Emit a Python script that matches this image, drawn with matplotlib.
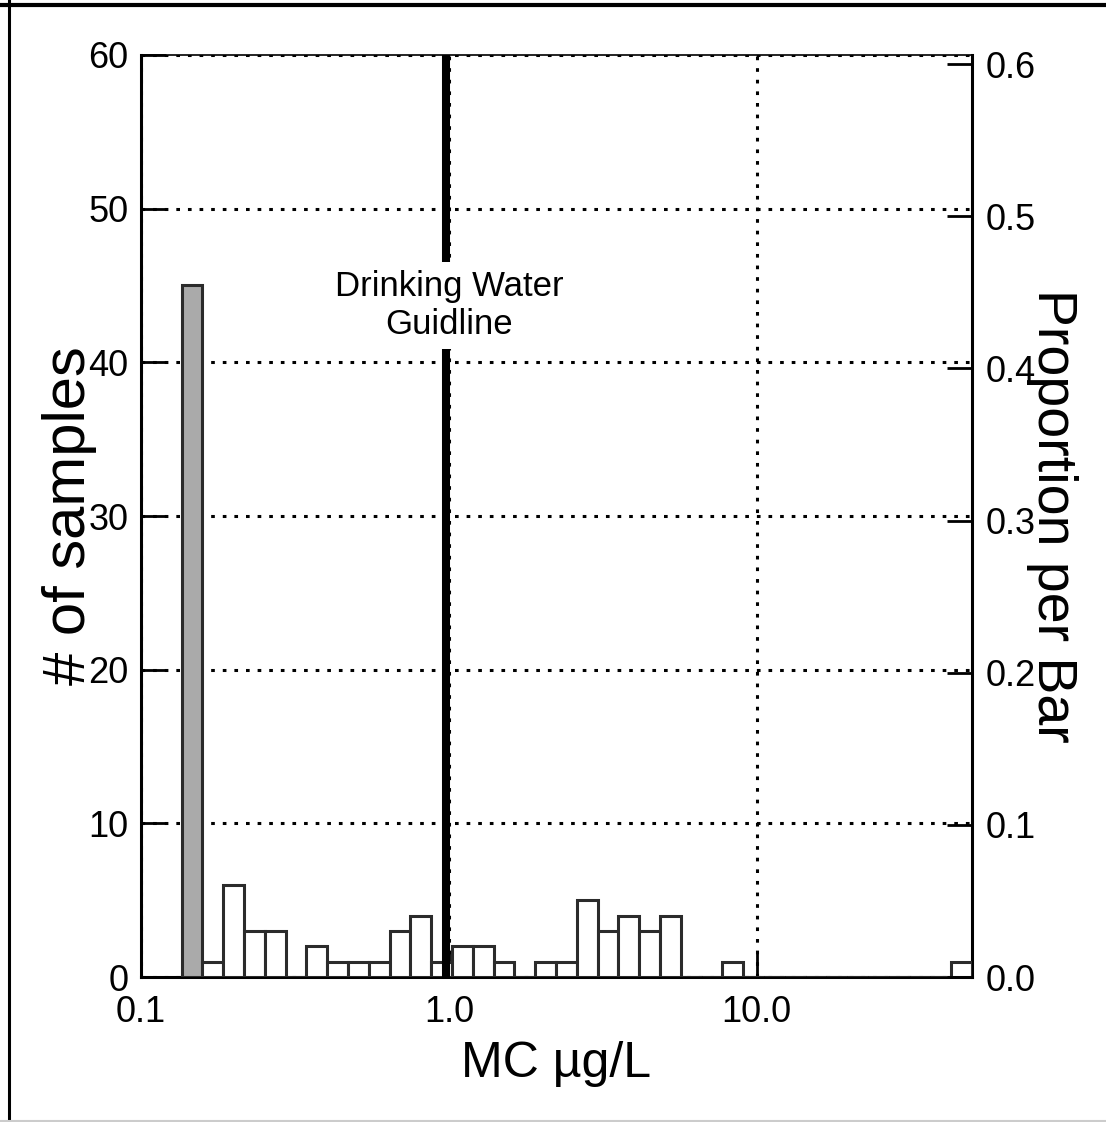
import numpy as np
import matplotlib
matplotlib.use('Agg')
import matplotlib.pyplot as plt
from matplotlib.lines import Line2D

plt.rcParams['font.family'] = ['Liberation Sans', 'DejaVu Sans']

# histogram of MC concentration (log-spaced bins)
counts = [45, 1, 6, 3, 3, 0, 2, 1, 1, 1, 3, 4, 1, 2, 2, 1, 0, 1, 1, 5,
          3, 4, 3, 4, 0, 0, 1, 0, 0, 0, 0, 0, 0, 0, 0, 0, 0, 1]
bin_lo = 0.1355
bin_hi = 50.0
first_bar_colour = '#aaaaaa'
guideline = 0.98
guide_text = 'Drinking Water\nGuidline'
x_ticks = [0.1, 1.0, 10.0]
x_labels = ['0.1', '1.0', '10.0']
y_ticks = [0, 10, 20, 30, 40, 50, 60]
p_ticks = [0.0, 0.1, 0.2, 0.3, 0.4, 0.5, 0.6]

edges = np.logspace(np.log10(bin_lo), np.log10(bin_hi), len(counts) + 1)
colours = [first_bar_colour] + ['white'] * (len(counts) - 1)
n_total = sum(counts)

fig = plt.figure(figsize=(11.06, 11.22), dpi=100)
ax = fig.add_axes([0.1275, 0.1292, 0.7513, 0.8218])

ax.bar(edges[:-1], counts, width=np.diff(edges), align='edge',
       color=colours, edgecolor='#2b2b2b', linewidth=2.2, zorder=3)
ax.axvline(guideline, color='black', linewidth=5.8, zorder=4)
ax.text(1.0, 43.7, guide_text, ha='center', va='center', fontsize=25,
        linespacing=1.2, zorder=5,
        bbox=dict(facecolor='white', edgecolor='none', pad=6))

ax.set_xscale('log')
ax.set_xlim(0.1, 50)
ax.set_ylim(0, 60)
ax.set_xticks(x_ticks)
ax.set_xticklabels(x_labels)
ax.xaxis.set_minor_locator(matplotlib.ticker.NullLocator())
ax.set_yticks(y_ticks)
ax.tick_params(axis='both', direction='in', length=18, width=2,
               labelsize=26, colors='black')
ax.tick_params(axis='x', pad=13)
ax.tick_params(axis='y', pad=9)
ax.grid(True, color='black', linestyle=(0, (1.2, 2.6)), linewidth=2.2, zorder=1)
ax.set_axisbelow(True)

for side, sp in ax.spines.items():
    sp.set_linewidth(2.2)
ax.spines['top'].set_linewidth(1.2)

ax.set_xlabel('MC µg/L', fontsize=36, labelpad=8)
ax.set_ylabel('# of samples', fontsize=43, labelpad=-6)

ax2 = ax.twinx()
ax2.set_ylim(0, 60 / n_total)
ax2.set_yticks(p_ticks)
ax2.set_yticklabels(['%.1f' % p for p in p_ticks])
ax2.tick_params(axis='y', direction='in', length=18, width=2,
                labelsize=26, pad=10)
ax2.set_ylabel('Proportion per Bar', fontsize=40, rotation=270, labelpad=30)
for sp in ax2.spines.values():
    sp.set_visible(False)

# outer frame
fig.add_artist(Line2D([0, 1], [0.9955, 0.9955], color='black', linewidth=3))
fig.add_artist(Line2D([0.0085, 0.0085], [0, 1], color='black', linewidth=2.2))
fig.add_artist(Line2D([0, 1], [0.001, 0.001], color='#cccccc', linewidth=1.5))

fig.savefig('out.png', dpi=100)
